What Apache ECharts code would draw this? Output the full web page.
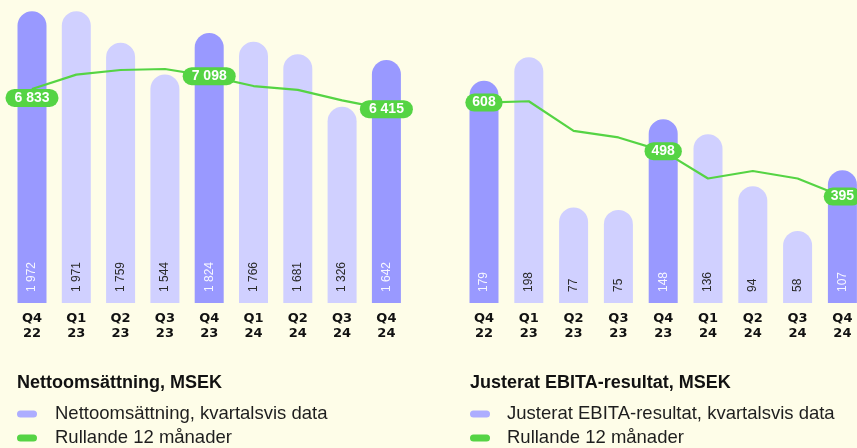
<!DOCTYPE html>
<html>
<head>
<meta charset="utf-8">
<script src="https://cdn.jsdelivr.net/npm/echarts@6/dist/echarts.min.js"></script>
<style>
  html, body { margin: 0; padding: 0; background: #fefde8; }
  #chart { width: 857px; height: 448px; }
</style>
</head>
<body>
<div id="chart"></div>
<script>
// kvartal
const categories = ["Q4\n22", "Q1\n23", "Q2\n23", "Q3\n23", "Q4\n23", "Q1\n24", "Q2\n24", "Q3\n24", "Q4\n24"];

// Nettoomsättning, MSEK
const salesQuarter = [1972, 1971, 1759, 1544, 1824, 1766, 1681, 1326, 1642];
const salesRolling = [6833, 7130, 7225, 7246, 7098, 6893, 6815, 6597, 6415];

// Justerat EBITA-resultat, MSEK
const ebitaQuarter = [179, 198, 77, 75, 148, 136, 94, 58, 107];
const ebitaRolling = [608, 611, 544, 529, 498, 436, 453, 436, 395];

const DARK = "#9999ff";
const LIGHT = "#d0d0ff";
const GREEN = "#55d444";
const FONT = "Liberation Sans";

const pill = "path://M3.5,0H16.5A3.5,3.5,0,0,1,16.5,7H3.5A3.5,3.5,0,0,1,3.5,0Z";

function fmt(v) {
  return String(v).replace(/\B(?=(\d{3})+(?!\d))/g, " ");
}

const isQ4 = categories.map(c => c.indexOf("Q4") === 0);

function barData(values) {
  return values.map((v, i) => ({
    value: v,
    itemStyle: { color: isQ4[i] ? DARK : LIGHT },
    label: { color: isQ4[i] ? "#f6f6ff" : "#2a2a2a" }
  }));
}

function lineData(values, firstOffset) {
  return values.map((v, i) => ({
    value: v,
    label: { show: isQ4[i], offset: i === 0 ? [0, firstOffset] : [0, 0] }
  }));
}

function xAxis(gridIndex) {
  return {
    type: "category",
    gridIndex: gridIndex,
    data: categories,
    axisLine: { show: false },
    axisTick: { show: false },
    axisLabel: {
      margin: 8,
      fontFamily: "DejaVu Sans",
      fontWeight: "bold",
      fontSize: 13,
      lineHeight: 15,
      color: "#111"
    }
  };
}

function barSeries(name, values, axis) {
  return {
    name: name,
    type: "bar",
    xAxisIndex: axis,
    yAxisIndex: axis * 2,
    barWidth: 29,
    data: barData(values),
    itemStyle: { color: "#adadff", borderRadius: [14.5, 14.5, 0, 0] },
    label: {
      show: true,
      position: "insideBottom",
      distance: 11,
      rotate: 90,
      align: "left",
      verticalAlign: "middle",
      fontFamily: FONT,
      fontSize: 12,
      formatter: p => fmt(p.value)
    },
    z: 2
  };
}

function lineSeries(values, axis, firstOffset, pad) {
  return {
    name: "Rullande 12 månader",
    type: "line",
    xAxisIndex: axis,
    yAxisIndex: axis * 2 + 1,
    data: lineData(values, firstOffset),
    symbol: "circle",
    symbolSize: 1,
    showSymbol: true,
    lineStyle: { color: GREEN, width: 2.2 },
    itemStyle: { color: GREEN },
    label: {
      position: "inside",
      formatter: p => fmt(p.value),
      color: "#fff",
      fontFamily: FONT,
      fontWeight: "bold",
      fontSize: 14,
      lineHeight: 14,
      backgroundColor: GREEN,
      borderRadius: 9,
      padding: pad
    },
    z: 5
  };
}

const chart = echarts.init(document.getElementById("chart"));
chart.setOption({
  backgroundColor: "#fefde8",
  animation: false,
  title: [
    { text: "Nettoomsättning, MSEK", left: 17, top: 374, padding: 0,
      textStyle: { fontFamily: FONT, fontSize: 18, fontWeight: "bold", color: "#111" } },
    { text: "Justerat EBITA-resultat, MSEK", left: 470, top: 374, padding: 0,
      textStyle: { fontFamily: FONT, fontSize: 18, fontWeight: "bold", color: "#111" } }
  ],
  legend: [
    {
      left: 17, top: 404, orient: "vertical", padding: 0, itemGap: 4,
      itemWidth: 20, itemHeight: 7, icon: pill, selectedMode: false,
      data: ["Nettoomsättning, kvartalsvis data", "Rullande 12 månader"],
      textStyle: { fontFamily: FONT, fontSize: 18.5, lineHeight: 20, color: "#1e1e1e", padding: [0, 0, 0, 13] }
    },
    {
      left: 470, top: 404, orient: "vertical", padding: 0, itemGap: 4,
      itemWidth: 20, itemHeight: 7, icon: pill, selectedMode: false,
      data: ["Justerat EBITA-resultat, kvartalsvis data", "Rullande 12 månader"],
      textStyle: { fontFamily: FONT, fontSize: 18.5, lineHeight: 20, color: "#1e1e1e", padding: [0, 0, 0, 12] }
    }
  ],
  grid: [
    { left: 9.85, top: 7, width: 398.7, height: 296, outerBoundsMode: "none" },
    { left: 461.6, top: 5, width: 403.2, height: 298, outerBoundsMode: "none" }
  ],
  xAxis: [xAxis(0), xAxis(1)],
  yAxis: [
    { type: "value", gridIndex: 0, min: 0, max: 2000, show: false },
    { type: "value", gridIndex: 0, min: 2400, max: 8530, show: false },
    { type: "value", gridIndex: 1, min: 0, max: 240, show: false },
    { type: "value", gridIndex: 1, min: 154, max: 829, show: false }
  ],
  series: [
    barSeries("Nettoomsättning, kvartalsvis data", salesQuarter, 0),
    lineSeries(salesRolling, 0, 9, [2, 9]),
    barSeries("Justerat EBITA-resultat, kvartalsvis data", ebitaQuarter, 1),
    lineSeries(ebitaRolling, 1, 0, [2, 7])
  ]
});
window.onresize = () => chart.resize();
</script>
</body>
</html>
